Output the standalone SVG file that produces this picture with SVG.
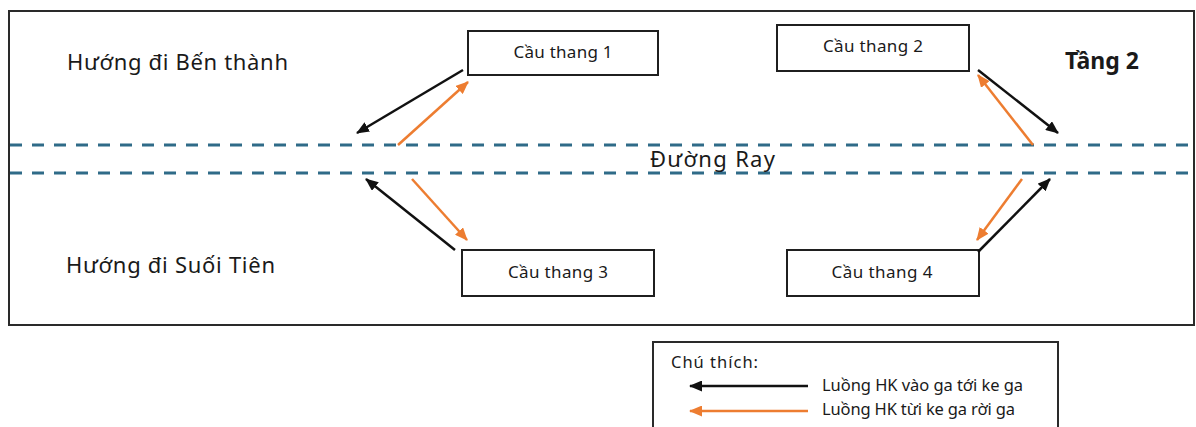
<svg xmlns="http://www.w3.org/2000/svg" width="1196" height="427" viewBox="0 0 1196 427">
<style>
  text { font-family: "Noto Sans", "Open Sans", "Liberation Sans", sans-serif; fill: #1a1a1a; }
  .lbl { font-size: 22px; }
  .box { fill: #ffffff; stroke: #1f1f1f; stroke-width: 2; }
  .bt { font-size: 17px; text-anchor: middle; }
  .rail { stroke: #2f6b88; stroke-width: 3; stroke-dasharray: 12 10; fill: none; }
  .in { stroke: #111111; stroke-width: 2.5; fill: none; marker-end: url(#ah-black); }
  .out { stroke: #ed7d31; stroke-width: 2.5; fill: none; marker-end: url(#ah-orange); }
  .lg { font-size: 16.5px; }
</style>
<defs>
  <marker id="ah-black" markerUnits="userSpaceOnUse" markerWidth="13" markerHeight="11" refX="12" refY="5.5" orient="auto">
    <path d="M0,0 L13,5.5 L0,11 z" fill="#111111"/>
  </marker>
  <marker id="ah-orange" markerUnits="userSpaceOnUse" markerWidth="13" markerHeight="11" refX="12" refY="5.5" orient="auto">
    <path d="M0,0 L13,5.5 L0,11 z" fill="#ed7d31"/>
  </marker>
</defs>
<rect width="1196" height="427" fill="#ffffff"/>
<g id="frame">
  <rect x="9" y="11" width="1185" height="314" fill="none" stroke="#2a2a2a" stroke-width="2"/>
</g>
<g id="rails">
  <line class="rail" x1="10" y1="145" x2="1194" y2="145"/>
  <line class="rail" x1="10" y1="173" x2="1194" y2="173"/>
</g>
<g id="labels">
  <text class="lbl" x="67" y="70" textLength="221">Hướng đi Bến thành</text>
  <text class="lbl" x="66" y="273" textLength="209">Hướng đi Suối Tiên</text>
  <text x="1065" y="69" font-size="23" font-weight="bold" textLength="74">Tầng 2</text>
  <text x="650" y="167" font-size="22" textLength="125">Đường Ray</text>
</g>
<g id="stair1">
  <rect class="box" x="468" y="31" width="190" height="44"/>
  <text class="bt" x="563" y="58" textLength="99">Cầu thang 1</text>
</g>
<g id="stair2">
  <rect class="box" x="777" y="25" width="192" height="46"/>
  <text class="bt" x="873" y="52" textLength="100">Cầu thang 2</text>
</g>
<g id="stair3">
  <rect class="box" x="462" y="250" width="192" height="46"/>
  <text class="bt" x="558" y="278" textLength="100">Cầu thang 3</text>
</g>
<g id="stair4">
  <rect class="box" x="787" y="250" width="192" height="46"/>
  <text class="bt" x="882" y="278" textLength="101">Cầu thang 4</text>
</g>
<g id="connectors">
  <line class="in" x1="463" y1="70" x2="357" y2="133"/>
  <line class="out" x1="398" y1="145" x2="468" y2="82"/>
  <line class="in" x1="978" y1="70" x2="1058" y2="133"/>
  <line class="out" x1="1033" y1="145" x2="978" y2="75"/>
  <line class="in" x1="455" y1="250" x2="366" y2="179"/>
  <line class="out" x1="412" y1="179" x2="467" y2="240"/>
  <line class="in" x1="978" y1="252" x2="1050" y2="179"/>
  <line class="out" x1="1022" y1="179" x2="977" y2="240"/>
</g>
<g id="legend">
  <rect x="653" y="342" width="405" height="95" fill="#ffffff" stroke="#2a2a2a" stroke-width="2"/>
  <text class="lg" x="671" y="368" textLength="87">Chú thích:</text>
  <line class="in" x1="808" y1="386" x2="690" y2="386"/>
  <text class="lg" x="822" y="391" textLength="201">Luồng HK vào ga tới ke ga</text>
  <line class="out" x1="808" y1="411" x2="690" y2="411"/>
  <text class="lg" x="822" y="415" textLength="193">Luồng HK từi ke ga rời ga</text>
</g>
</svg>
